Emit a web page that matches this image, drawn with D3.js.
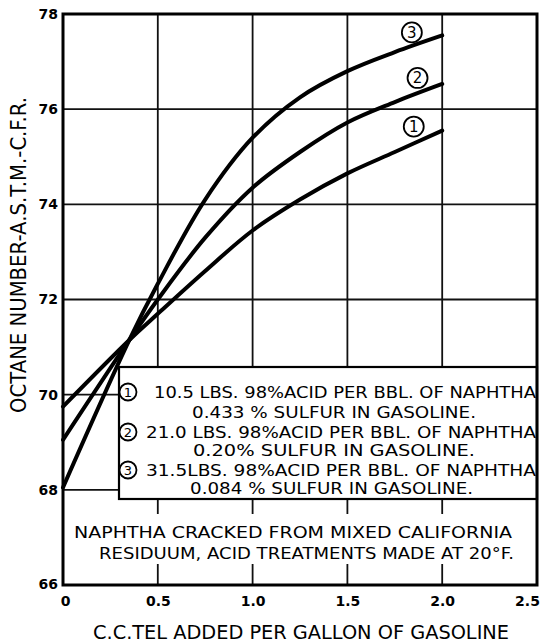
<!DOCTYPE html>
<html><head><meta charset="utf-8">
<script src="https://cdn.jsdelivr.net/npm/d3@7"></script>
<style>body{margin:0;background:#fff}svg{display:block}</style>
</head><body>
<script>
const xTicks = [0, 0.5, 1.0, 1.5, 2.0, 2.5];
const xTickLabels = ["0", "0.5", "1.0", "1.5", "2.0", "2.5"];
const yTicks = [66, 68, 70, 72, 74, 76, 78];
const tel = [0, 0.35, 0.5, 0.75, 1.0, 1.25, 1.5, 1.75, 2.0];
const curve1 = [69.75, 71.15, 71.7, 72.6, 73.45, 74.1, 74.65, 75.1, 75.55];
const curve2 = [69.05, 71.15, 72.0, 73.3, 74.35, 75.1, 75.72, 76.15, 76.53];
const curve3 = [68.05, 71.15, 72.33, 74.1, 75.4, 76.25, 76.8, 77.2, 77.55];
const seriesNames = ["1", "2", "3"];
const legendLines = [
  ["10.5 LBS. 98%ACID PER BBL. OF NAPHTHA", "0.433 % SULFUR IN GASOLINE."],
  ["21.0 LBS. 98%ACID PER BBL. OF NAPHTHA", "0.20% SULFUR IN GASOLINE."],
  ["31.5LBS. 98%ACID PER BBL. OF NAPHTHA", "0.084 % SULFUR IN GASOLINE."]
];
const noteLines = ["NAPHTHA  CRACKED FROM MIXED CALIFORNIA", "RESIDUUM, ACID TREATMENTS MADE AT 20°F."];
const xTitle = "C.C.TEL  ADDED PER GALLON OF GASOLINE";
const yTitle = "OCTANE  NUMBER-A.S.T.M.-C.F.R.";

const W = 552, H = 643;
const L = 63, R = 537, T = 14, B = 585;
const svg = d3.select("body").append("svg").attr("width", W).attr("height", H);
const x = d3.scaleLinear().domain([0, 2.5]).range([L, R]);
const y = d3.scaleLinear().domain([66, 78]).range([B, T]);
const font = "'DejaVu Sans', sans-serif";

// grid
const g = svg.append("g").attr("stroke", "#111").attr("stroke-width", 1.8);
xTicks.slice(1, -1).forEach(v => g.append("line").attr("x1", x(v)).attr("x2", x(v)).attr("y1", T).attr("y2", B));
yTicks.slice(1, -1).forEach(v => g.append("line").attr("x1", L).attr("x2", R).attr("y1", y(v)).attr("y2", y(v)));

// curves
const line = d3.line().x((d, i) => x(tel[i])).y(d => y(d)).curve(d3.curveCatmullRom.alpha(0.5));
[curve1, curve2, curve3].forEach(c => {
  svg.append("path").attr("d", line(c)).attr("fill", "none").attr("stroke", "#000").attr("stroke-width", 4).attr("stroke-linecap", "round");
});

// circled labels
const circ = (cx, cy, r, t, fs) => {
  svg.append("circle").attr("cx", cx).attr("cy", cy).attr("r", r).attr("fill", "#fff").attr("stroke", "#000").attr("stroke-width", 1.8);
  svg.append("text").attr("x", cx).attr("y", cy).attr("dy", "0.36em").attr("text-anchor", "middle")
    .attr("font-family", font).attr("font-size", fs).text(t);
};
const labelX = [1.85, 1.87, 1.84];
const labelDy = [-4, -6, -3];
[curve1, curve2, curve3].forEach((c, i) => {
  circ(x(labelX[i]), y(c[c.length - 1]) + labelDy[i], 10, seriesNames[i], 15);
});

// legend box
const bx0 = 119, by0 = 367, bx1 = R, by1 = 499;
svg.append("rect").attr("x", bx0).attr("y", by0).attr("width", bx1 - bx0).attr("height", by1 - by0)
  .attr("fill", "#fff").attr("stroke", "#000").attr("stroke-width", 2.2);
const rowY = [[392, 412], [432, 450], [470, 488]];
const line1X = [154, 146, 146];
const line2X = [[192, 476], [193, 475], [190, 473]];
legendLines.forEach((ls, i) => {
  circ(128, rowY[i][0], 8.5, seriesNames[i], 13);
  svg.append("text").attr("x", line1X[i]).attr("y", rowY[i][0]).attr("dy", "0.36em")
    .attr("font-family", font).attr("font-size", 15.5)
    .attr("textLength", 536 - line1X[i]).attr("lengthAdjust", "spacingAndGlyphs").text(ls[0]);
  svg.append("text").attr("x", line2X[i][0]).attr("y", rowY[i][1]).attr("dy", "0.36em")
    .attr("font-family", font).attr("font-size", 15.5)
    .attr("textLength", line2X[i][1] - line2X[i][0]).attr("lengthAdjust", "spacingAndGlyphs").text(ls[1]);
});

// note with white knockout
svg.append("rect").attr("x", 68).attr("y", 514).attr("width", 462).attr("height", 50).attr("fill", "#fff");
const noteX = [[74, 512], [99, 514]];
const noteY = [532, 553];
noteLines.forEach((t, i) => {
  svg.append("text").attr("x", noteX[i][0]).attr("y", noteY[i]).attr("dy", "0.36em")
    .attr("font-family", font).attr("font-size", 15.5)
    .attr("textLength", noteX[i][1] - noteX[i][0]).attr("lengthAdjust", "spacingAndGlyphs").text(t);
});

// frame
svg.append("rect").attr("x", L).attr("y", T).attr("width", R - L).attr("height", B - T)
  .attr("fill", "none").attr("stroke", "#000").attr("stroke-width", 3);

// axes labels
const xAxis = d3.axisBottom(x).tickValues(xTicks).tickSize(0).tickPadding(11).tickFormat((d, i) => xTickLabels[i]);
const xa = svg.append("g").attr("transform", `translate(0,${B})`).call(xAxis);
xa.select(".domain").remove();
xa.selectAll("text").attr("font-family", font).attr("font-size", 14).attr("font-weight", "bold").attr("fill", "#000");
xa.selectAll(".tick").filter(d => d === 0).select("text").attr("dx", 2);
xa.selectAll(".tick").filter(d => d === 2.5).select("text").attr("dx", -10);

const yAxis = d3.axisLeft(y).tickValues(yTicks).tickSize(0).tickPadding(5);
const ya = svg.append("g").attr("transform", `translate(${L},0)`).call(yAxis);
ya.select(".domain").remove();
ya.selectAll("text").attr("font-family", font).attr("font-size", 14).attr("font-weight", "bold").attr("fill", "#000");
ya.selectAll(".tick").filter(d => d === 66).select("text").attr("dy", "0.25em");

// titles
svg.append("text").attr("x", 93).attr("y", 632).attr("dy", "0.36em")
  .attr("font-family", font).attr("font-size", 20)
  .attr("textLength", 416).attr("lengthAdjust", "spacingAndGlyphs").text(xTitle);
svg.append("text").attr("transform", "translate(18,413) rotate(-90)").attr("dy", "0.36em")
  .attr("font-family", font).attr("font-size", 22)
  .attr("textLength", 316).attr("lengthAdjust", "spacingAndGlyphs").text(yTitle);
</script>
</body></html>
